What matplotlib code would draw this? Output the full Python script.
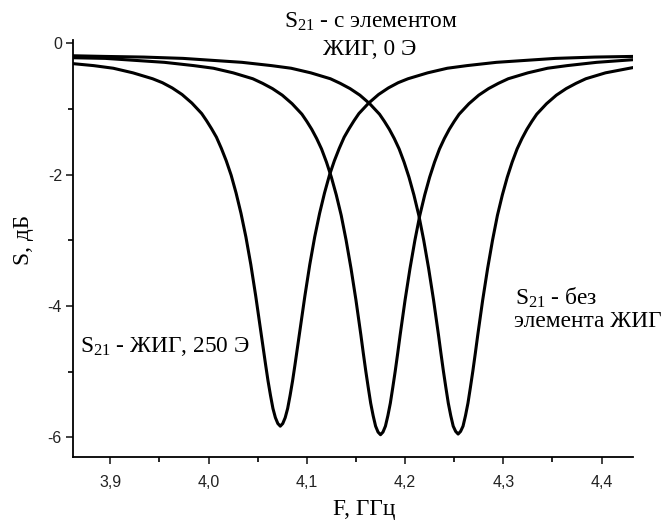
import matplotlib
matplotlib.use("Agg")
import matplotlib.pyplot as plt
from matplotlib.ticker import MultipleLocator, FuncFormatter

# --- data (GHz, dB) ---
# S21 with YIG element, 250 Oe (left dip)
f_yig250 = [3.862, 3.883, 3.903, 3.923, 3.943, 3.953, 3.963, 3.973, 3.983, 3.993,
            3.998, 4.003, 4.008, 4.013, 4.018, 4.023, 4.028, 4.033, 4.038, 4.043,
            4.048, 4.053, 4.0555, 4.058, 4.0605, 4.063, 4.0655, 4.068, 4.0705, 4.073,
            4.0755, 4.078, 4.0805, 4.083, 4.0855, 4.088, 4.0905, 4.093,
            4.098, 4.103, 4.108, 4.113, 4.118, 4.123, 4.128, 4.133, 4.138, 4.143,
            4.148, 4.153, 4.163, 4.173, 4.183, 4.193, 4.203,
            4.223, 4.243, 4.263, 4.293, 4.323, 4.353, 4.393, 4.432]
s_yig250 = [-0.31, -0.34, -0.38, -0.45, -0.54, -0.60, -0.68, -0.78, -0.91, -1.07,
            -1.18, -1.30, -1.43, -1.60, -1.79, -2.01, -2.28, -2.59, -2.95, -3.37,
            -3.85, -4.37, -4.63, -4.89, -5.14, -5.36, -5.56, -5.70, -5.79, -5.83,
            -5.79, -5.70, -5.56, -5.36, -5.14, -4.89, -4.63, -4.37,
            -3.85, -3.37, -2.95, -2.59, -2.28, -2.01, -1.79, -1.60, -1.43, -1.30,
            -1.18, -1.07, -0.91, -0.78, -0.68, -0.60, -0.54,
            -0.45, -0.38, -0.34, -0.29, -0.26, -0.23, -0.21, -0.20]

# S21 with YIG element, 0 Oe (middle dip)
f_yig0 = [3.862, 3.895, 3.925, 3.955, 3.985, 4.005, 4.025, 4.045, 4.055, 4.065,
          4.075, 4.085, 4.095, 4.100, 4.105, 4.110, 4.115, 4.120, 4.125, 4.130,
          4.135, 4.140, 4.145, 4.150, 4.155, 4.1575, 4.160, 4.1625, 4.165, 4.1675,
          4.170, 4.1725, 4.175,
          4.1775, 4.180, 4.1825, 4.185, 4.1875, 4.190, 4.1925, 4.195,
          4.200, 4.205, 4.210, 4.215, 4.220, 4.225, 4.230, 4.235, 4.240, 4.245,
          4.250, 4.255, 4.265, 4.275, 4.285, 4.295, 4.305,
          4.325, 4.345, 4.365, 4.395, 4.432]
s_yig0 = [-0.22, -0.23, -0.26, -0.29, -0.34, -0.38, -0.45, -0.54, -0.61, -0.69,
          -0.79, -0.92, -1.08, -1.19, -1.31, -1.45, -1.61, -1.81, -2.04, -2.31,
          -2.62, -3.00, -3.43, -3.91, -4.44, -4.72, -4.99, -5.24, -5.48, -5.67,
          -5.83, -5.92, -5.96,
          -5.92, -5.83, -5.67, -5.48, -5.24, -4.99, -4.72, -4.44,
          -3.91, -3.43, -3.00, -2.62, -2.31, -2.04, -1.81, -1.61, -1.45, -1.31,
          -1.19, -1.08, -0.92, -0.79, -0.69, -0.61, -0.54,
          -0.45, -0.38, -0.34, -0.29, -0.25]

# S21 without YIG element (right dip)
f_no_yig = [3.862, 3.894, 3.934, 3.974, 4.004, 4.034, 4.064, 4.084, 4.104, 4.124,
            4.134, 4.144, 4.154, 4.164, 4.174, 4.179, 4.184, 4.189, 4.194, 4.199,
            4.204, 4.209, 4.214, 4.219, 4.224, 4.229, 4.234, 4.2365, 4.239, 4.2415,
            4.244, 4.2465, 4.249, 4.2515, 4.254,
            4.2565, 4.259, 4.2615, 4.264, 4.2665, 4.269, 4.2715, 4.274,
            4.279, 4.284, 4.289, 4.294, 4.299, 4.304, 4.309, 4.314, 4.319, 4.324,
            4.329, 4.334, 4.344, 4.354, 4.364, 4.374, 4.384, 4.404, 4.432]
s_no_yig = [-0.19, -0.20, -0.21, -0.23, -0.26, -0.29, -0.34, -0.38, -0.45, -0.54,
            -0.61, -0.69, -0.79, -0.92, -1.08, -1.19, -1.31, -1.45, -1.61, -1.81,
            -2.04, -2.31, -2.62, -3.00, -3.43, -3.91, -4.44, -4.72, -4.99, -5.24,
            -5.48, -5.67, -5.83, -5.91, -5.95,
            -5.91, -5.83, -5.67, -5.48, -5.24, -4.99, -4.72, -4.44,
            -3.91, -3.43, -3.00, -2.62, -2.31, -2.04, -1.81, -1.61, -1.45, -1.31,
            -1.19, -1.08, -0.92, -0.79, -0.69, -0.61, -0.54, -0.45, -0.37]

W, H = 665, 521
SERIF = "Liberation Serif"
SANS = "Liberation Sans"

plt.rcParams["mathtext.fontset"] = "custom"
plt.rcParams["mathtext.rm"] = SERIF
plt.rcParams["mathtext.it"] = SERIF + ":italic"


def fx(px):
    return px / W


def fy(py):
    return 1 - py / H


fig = plt.figure(figsize=(W / 100, H / 100), dpi=100)
ax = fig.add_axes([fx(73), fy(456.7), fx(633) - fx(73), fy(40) - fy(456.7)])

for f, s in [(f_yig250, s_yig250), (f_yig0, s_yig0), (f_no_yig, s_no_yig)]:
    ax.plot(f, s, color="black", lw=2.2, solid_joinstyle="round")

ax.set_xlim(3.862, 4.432)
ax.set_ylim(-6.295, 0.05)

for side in ("top", "right"):
    ax.spines[side].set_visible(False)
for side in ("left", "bottom"):
    ax.spines[side].set_linewidth(1.3)

ax.xaxis.set_major_locator(MultipleLocator(0.1))
ax.xaxis.set_minor_locator(MultipleLocator(0.05))
ax.yaxis.set_major_locator(MultipleLocator(2))
ax.yaxis.set_minor_locator(MultipleLocator(1))
ax.xaxis.set_major_formatter(FuncFormatter(lambda v, p: f"{v:.1f}".replace(".", ",")))
ax.yaxis.set_major_formatter(FuncFormatter(lambda v, p: f"{v:.0f}"))
ax.tick_params(which="major", direction="out", length=5, width=1.2,
               labelsize=11.5, colors="#222222")
ax.tick_params(which="minor", direction="out", length=3.5, width=1.2)
for lab in ax.get_xticklabels() + ax.get_yticklabels():
    lab.set_fontfamily(SANS)
ax.tick_params(axis="x", pad=8)
ax.tick_params(axis="y", pad=3)

tkw = dict(fontsize=16.8, family=SERIF, color="black", va="baseline")
fig.text(fx(371), fy(27.5), r"S$_{21}$ - с элементом", ha="center", **tkw)
fig.text(fx(369.5), fy(55), "ЖИГ, 0 Э", ha="center", **tkw)
fig.text(fx(80), fy(351.7), r"S$_{21}$ - ЖИГ, 250 Э", ha="left", **tkw)
fig.text(fx(515), fy(305), r"S$_{21}$ - без", ha="left", **tkw)
fig.text(fx(514), fy(326.7), "элемента ЖИГ", ha="left", **tkw)
fig.text(fx(364), fy(515), "F, ГГц", ha="center", **tkw)

fig.text(fx(24), fy(240), "S, дБ", ha="center", va="center", rotation=90,
         fontsize=16.8, family=SERIF, color="black")

fig.savefig("out.png", dpi=100)
